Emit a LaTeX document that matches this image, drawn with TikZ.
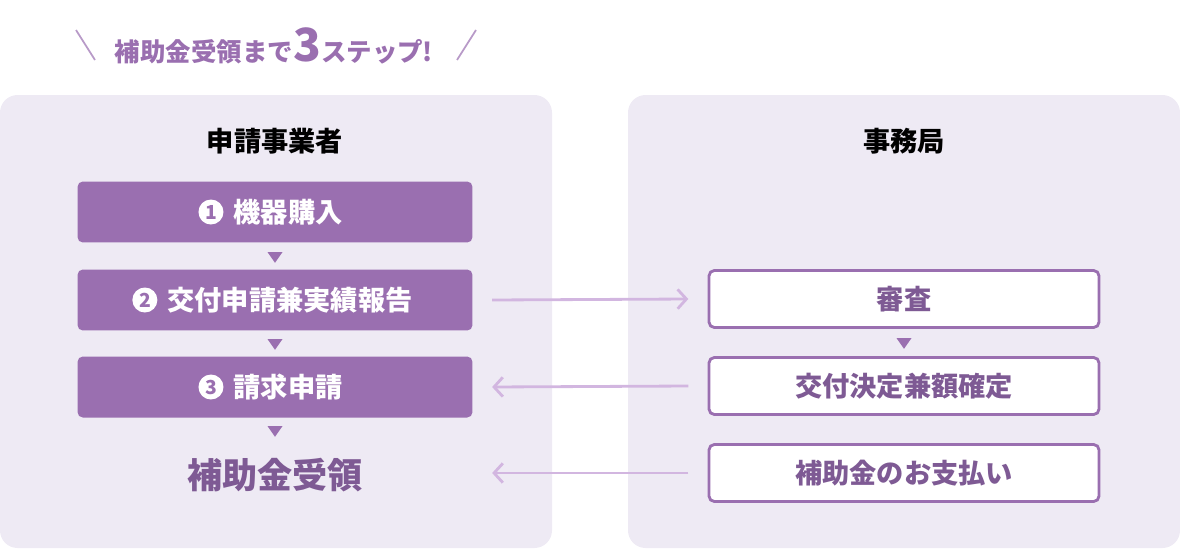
\documentclass[tikz,border=0pt]{standalone}
\usepackage{fontspec}
\setmainfont{Noto Sans CJK JP}
\usetikzlibrary{arrows.meta,positioning,shapes.geometric}
\definecolor{panel}{HTML}{EEEAF4}
\definecolor{violet}{HTML}{9A6FB0}
\definecolor{deepv}{HTML}{7E5A94}
\definecolor{lilac}{HTML}{D2B6E0}
\tikzset{
  phase/.style={draw=none,fill=violet,rounded corners=3pt,minimum width=7.9cm,minimum height=1.22cm},
  task/.style={draw=violet,line width=1.6pt,fill=white,rounded corners=3pt,minimum width=7.8cm,minimum height=1.14cm,text=deepv,font=\bfseries\fontsize{15.5}{15.5}\selectfont},
  phasetext/.style={text=white,font=\bfseries\fontsize{15.5}{15.5}\selectfont},
  num/.style={circle,fill=white,text=violet,inner sep=0pt,minimum size=0.5cm,font=\bfseries\fontsize{11}{11}\selectfont},
  tri/.style={fill=violet,isosceles triangle,shape border rotate=-90,isosceles triangle apex angle=70,inner sep=0pt,minimum width=0.3cm,minimum height=0.2cm},
  flow/.style={draw=lilac,line width=1.6pt,-{Straight Barb[length=5pt,width=11pt]}}
}
\begin{document}
\begin{tikzpicture}[x=0.02cm,y=-0.02cm]
\useasboundingbox (0,0) rectangle (1180,548);
\fill[panel,rounded corners=10pt] (0,95) rectangle (552,548);
\fill[panel,rounded corners=10pt] (628,95) rectangle (1180,548);
% title
\node[text=violet,font=\bfseries\fontsize{14.5}{14.5}\selectfont] (title) at (274,46) {補助金受領まで{\fontsize{26}{26}\selectfont 3}ステップ!};
\draw[violet!70,line width=1pt] (76,30) -- (95,60);
\draw[violet!70,line width=1pt] (476,30) -- (457,60);
% headers
\node[font=\bfseries\fontsize{15.5}{15.5}\selectfont] (applicant) at (275,141) {申請事業者};
\node[font=\bfseries\fontsize{15.5}{15.5}\selectfont] (office) at (904,141) {事務局};
% applicant steps
\node[phase] (s1) at (275,212) {};
\node[phase] (s2) at (275,300) {};
\node[phase] (s3) at (275,387) {};
\node[phasetext] (t1) at (288,212) {機器購入};
\node[phasetext] (t2) at (290,300) {交付申請兼実績報告};
\node[phasetext] (t3) at (288,387) {請求申請};
\node[num,left=2pt of t1] (n1) {1};
\node[num,left=2pt of t2] (n2) {2};
\node[num,left=2pt of t3] (n3) {3};
\node[tri] (d1) at (275,256) {};
\node[tri] (d2) at (275,343) {};
\node[tri] (d3) at (275,430) {};
\node[text=deepv,font=\bfseries\fontsize{20}{20}\selectfont] (grant) at (275,475) {補助金受領};
% office tasks
\node[task] (review) at (904,299) {審査};
\node[task] (decide) at (904,386) {交付決定兼額確定};
\node[task] (pay) at (904,473) {補助金のお支払い};
\node[tri] (d4) at (904,342) {};
% connectors
\draw[flow] ([xshift=11]s2.east) -- ([xshift=-11]review.west);
\draw[flow] ([xshift=-11]decide.west) -- ([xshift=11]s3.east);
\draw[flow] ([xshift=-11]pay.west) -- ([xshift=11]s3.east |- pay.west);
\end{tikzpicture}
\end{document}
